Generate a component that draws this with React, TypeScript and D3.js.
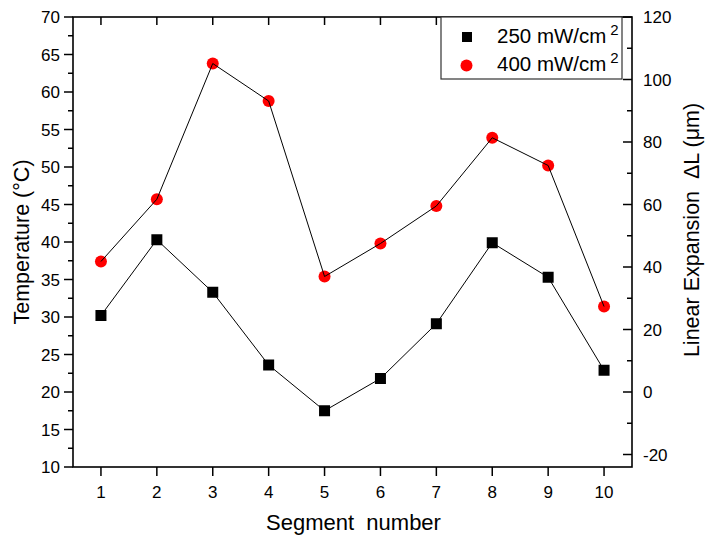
import React from "react";
import * as d3 from "d3";

const segments = [1, 2, 3, 4, 5, 6, 7, 8, 9, 10];
const temp250 = [30.2, 40.3, 33.3, 23.6, 17.5, 21.8, 29.1, 39.9, 35.3, 22.9];
const temp400 = [37.4, 45.7, 63.8, 58.8, 35.4, 39.8, 44.8, 53.9, 50.2, 31.4];
const leftTicks = [10, 15, 20, 25, 30, 35, 40, 45, 50, 55, 60, 65, 70];
const rightTicks = [-20, 0, 20, 40, 60, 80, 100, 120];
const seriesLabels = ["250 mW/cm", "400 mW/cm"];

const W = 709, H = 537;
const L = 73, R = 632, T = 17, B = 467;
const font = "Liberation Sans, Arial, sans-serif";

export default function App() {
  const x = d3.scaleLinear().domain([0.5, 10.5]).range([L, R]);
  const y = d3.scaleLinear().domain([10, 70]).range([B, T]);
  const y2 = d3.scaleLinear().domain([-24, 120]).range([B, T]);
  const line = d3.line<number>().x((_, i) => x(segments[i])).y((d) => y(d));
  const leftMinor = d3.range(10, 70.01, 2.5).filter((v) => !leftTicks.includes(v));
  const rightMinor = d3.range(-20, 120.01, 10).filter((v) => !rightTicks.includes(v));

  return (
    <svg width={W} height={H} style={{ position: "absolute", left: 0, top: 0, background: "#fff" }} fontFamily={font}>
      <rect x={0} y={0} width={W} height={H} fill="#fff" />
      {/* markers */}
      {temp250.map((v, i) => (
        <rect key={"s" + i} x={x(segments[i]) - 5.5} y={y(v) - 5.5} width={11} height={11} fill="#000" />
      ))}
      {temp400.map((v, i) => (
        <circle key={"c" + i} cx={x(segments[i])} cy={y(v)} r={6} fill="#ff0000" />
      ))}
      <path d={line(temp250) || ""} fill="none" stroke="#000" strokeWidth={1} />
      <path d={line(temp400) || ""} fill="none" stroke="#000" strokeWidth={1} />

      {/* frame */}
      <rect x={L} y={T} width={R - L} height={B - T} fill="none" stroke="#000" strokeWidth={1.6} />

      {/* left axis */}
      {leftTicks.map((v) => (
        <g key={"lt" + v}>
          <line x1={L - 9} x2={L} y1={y(v)} y2={y(v)} stroke="#000" strokeWidth={1.5} />
          <text x={L - 13} y={y(v)} dy="0.36em" textAnchor="end" fontSize={17}>{v}</text>
        </g>
      ))}
      {leftMinor.map((v) => (
        <line key={"lm" + v} x1={L - 5} x2={L} y1={y(v)} y2={y(v)} stroke="#000" strokeWidth={1.5} />
      ))}

      {/* right axis */}
      {rightTicks.map((v) => (
        <g key={"rt" + v}>
          <line x1={R - 9} x2={R} y1={y2(v)} y2={y2(v)} stroke="#000" strokeWidth={1.5} />
          <text x={R + 11} y={y2(v)} dy="0.36em" textAnchor="start" fontSize={17}>{v}</text>
        </g>
      ))}
      {rightMinor.map((v) => (
        <line key={"rm" + v} x1={R - 5} x2={R} y1={y2(v)} y2={y2(v)} stroke="#000" strokeWidth={1.5} />
      ))}

      {/* bottom & top axis */}
      {segments.map((v) => (
        <g key={"xt" + v}>
          <line x1={x(v)} x2={x(v)} y1={B} y2={B + 9} stroke="#000" strokeWidth={1.5} />
          <line x1={x(v)} x2={x(v)} y1={T} y2={T + 8} stroke="#000" strokeWidth={1.5} />
          <text x={x(v)} y={B + 31} textAnchor="middle" fontSize={17}>{v}</text>
        </g>
      ))}

      {/* titles */}
      <text x={(L + R) / 2 + 1} y={530} textAnchor="middle" fontSize={22} style={{ whiteSpace: "pre" }}>
        {"Segment  number"}
      </text>
      <text transform={`translate(29,${(T + B) / 2}) rotate(-90)`} textAnchor="middle" fontSize={21.5}>
        Temperature (°C)
      </text>
      <text transform={`translate(699,${(T + B) / 2 - 12}) rotate(-90)`} textAnchor="middle" fontSize={21.5} style={{ whiteSpace: "pre" }}>
        {"Linear Expansion  ΔL (μm)"}
      </text>

      {/* legend */}
      <rect x={441} y={T} width={181} height={62} fill="#fff" stroke="#333" strokeWidth={1.2} />
      <rect x={462} y={32} width={10} height={10} fill="#000" />
      <circle cx={466.5} cy={65.5} r={6} fill="#ff0000" />
      {seriesLabels.map((s, i) => (
        <text key={s} x={497} y={43 + i * 28} fontSize={20.5}>
          {s}
          <tspan dx={4} dy={-8} fontSize={15}>2</tspan>
        </text>
      ))}
    </svg>
  );
}
